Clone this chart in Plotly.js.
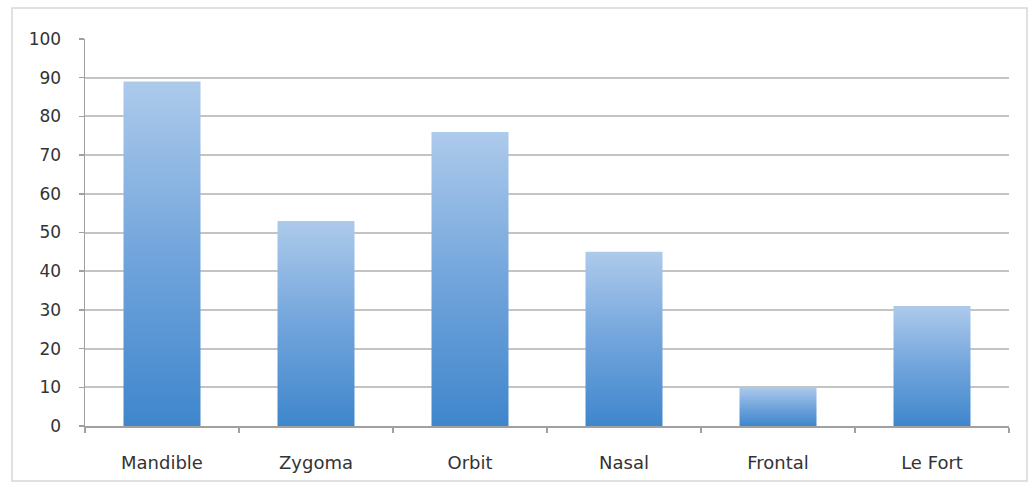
<!DOCTYPE html>
<html>
<head>
<meta charset="utf-8">
<script src="https://cdn.plot.ly/plotly-3.0.1.min.js"></script>
<style>
  html, body { margin: 0; padding: 0; background: #ffffff; }
  #chart { width: 1029px; height: 483px; }
</style>
</head>
<body>
<div id="chart"></div>
<script>
// Fracture sites and counts
const categories = ["Mandible", "Zygoma", "Orbit", "Nasal", "Frontal", "Le Fort"];
const counts = [89, 53, 76, 45, 10, 31];

// y-axis tick values
const yTicks = [0, 10, 20, 30, 40, 50, 60, 70, 80, 90, 100];

const barHalfWidth = 0.25;
const gradient = [[0, "#3f86cc"], [0.5, "#72a5dc"], [1, "#adcaeb"]];

// Each bar is a filled rectangle on a numeric axis so it can carry a vertical gradient
const traces = categories.map((name, i) => {
  const x0 = i - barHalfWidth, x1 = i + barHalfWidth;
  return {
    type: "scatter",
    mode: "lines",
    name: name,
    x: [x0, x0, x1, x1, x0],
    y: [0, counts[i], counts[i], 0, 0],
    fill: "toself",
    fillgradient: { type: "vertical", colorscale: gradient },
    line: { width: 0, color: "rgba(0,0,0,0)" },
    hoverinfo: "skip",
    showlegend: false
  };
});

const textColor = "#333333";
const layout = {
  width: 1029,
  height: 483,
  margin: { l: 85, r: 20, t: 39, b: 57 },
  paper_bgcolor: "#ffffff",
  plot_bgcolor: "#ffffff",
  showlegend: false,
  xaxis: {
    range: [-0.5, categories.length - 0.5],
    tickmode: "array",
    tickvals: categories.map((_, i) => i),
    ticktext: categories,
    ticks: "",
    showgrid: false,
    zeroline: false,
    showline: true,
    linecolor: "#a0a0a0",
    linewidth: 1.5,
    ticklabelstandoff: 20,
    tickfont: { family: "DejaVu Sans", size: 18, color: textColor },
    minor: {
      tickmode: "linear",
      tick0: 0.5,
      dtick: 1,
      ticks: "outside",
      ticklen: 5,
      tickwidth: 1.5,
      tickcolor: "#a0a0a0",
      showgrid: false
    },
    fixedrange: true
  },
  yaxis: {
    range: [0, 100],
    tickmode: "array",
    tickvals: yTicks,
    ticktext: yTicks.map(String),
    ticks: "outside",
    ticklen: 5,
    tickwidth: 1.5,
    tickcolor: "#a0a0a0",
    showgrid: true,
    gridcolor: "#c4c4c4",
    gridwidth: 2,
    zeroline: false,
    showline: true,
    linecolor: "#a0a0a0",
    linewidth: 1.5,
    ticklabelstandoff: 14,
    tickfont: { family: "DejaVu Sans", size: 17, color: textColor },
    fixedrange: true
  },
  shapes: [
    {
      // outer chart frame
      type: "rect",
      xref: "paper", yref: "paper",
      x0: (12 - 85) / 924, x1: (1027 - 85) / 924,
      y0: (426 - 481) / 387, y1: (426 - 8) / 387,
      line: { color: "#d6d6d6", width: 1.5 },
      layer: "below"
    }
  ]
};

Plotly.newPlot("chart", traces, layout, { displayModeBar: false, staticPlot: true });
</script>
</body>
</html>
